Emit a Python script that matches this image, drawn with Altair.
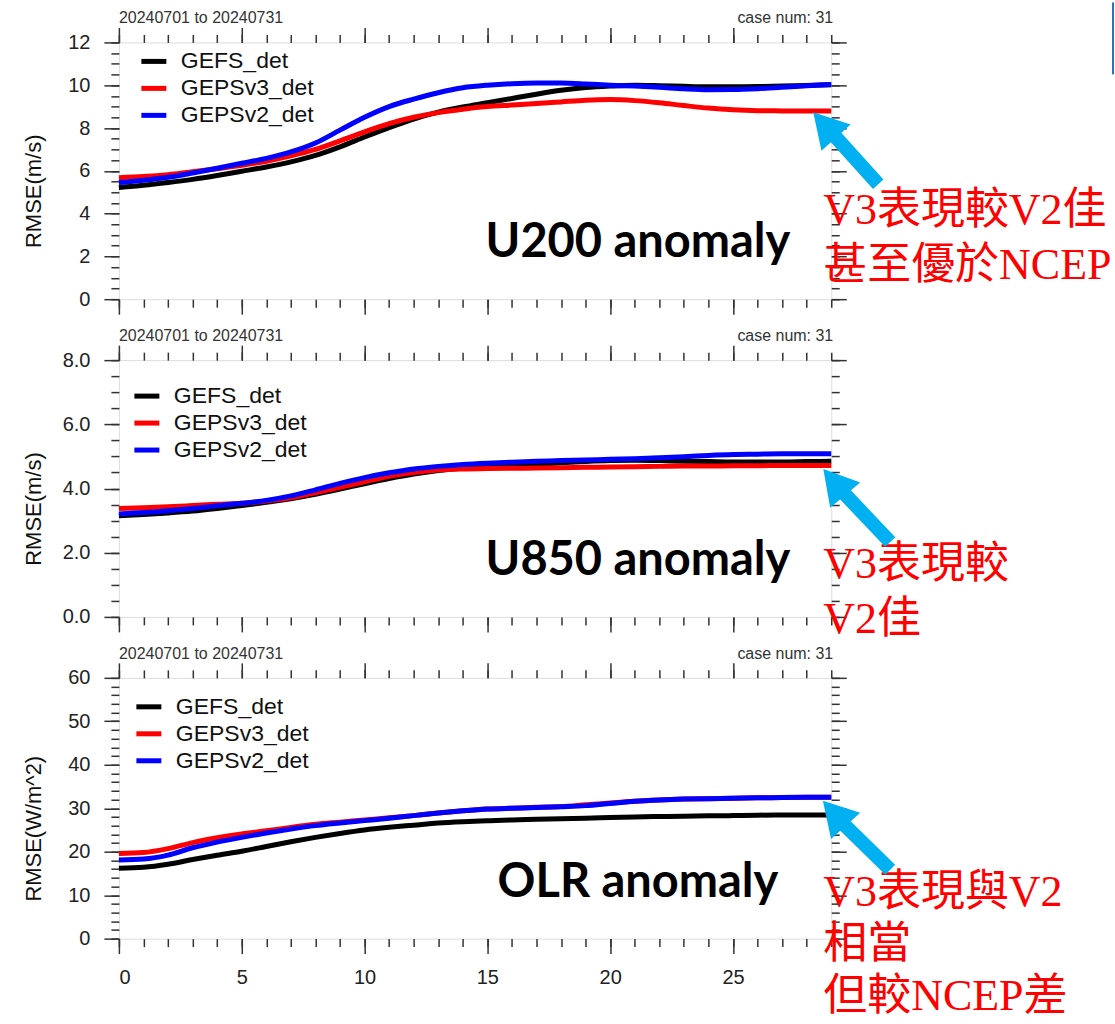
import altair as alt
import pandas as pd

# ---------------- data ----------------
days = list(range(30))
models = ["GEFS_det", "GEPSv3_det", "GEPSv2_det"]
model_colors = ["#000000", "#ff0000", "#0000ff"]

u200_gefs = [5.22, 5.32, 5.45, 5.60, 5.78, 5.98, 6.18, 6.42, 6.72, 7.12, 7.58, 8.02, 8.42, 8.74, 8.98,
             9.18, 9.38, 9.58, 9.76, 9.89, 9.96, 10.00, 9.98, 9.95, 9.93, 9.93, 9.94, 9.96, 9.99, 10.02]
u200_v3 = [5.68, 5.73, 5.82, 5.96, 6.10, 6.26, 6.45, 6.70, 7.00, 7.40, 7.82, 8.20, 8.50, 8.72, 8.88,
           9.00, 9.07, 9.14, 9.22, 9.30, 9.33, 9.28, 9.18, 9.05, 8.93, 8.85, 8.81, 8.80, 8.80, 8.80]
u200_v2 = [5.45, 5.56, 5.70, 5.90, 6.12, 6.35, 6.58, 6.88, 7.30, 7.90, 8.50, 9.00, 9.35, 9.65, 9.88,
           10.00, 10.07, 10.10, 10.10, 10.06, 10.00, 9.96, 9.90, 9.83, 9.79, 9.80, 9.84, 9.90, 9.97, 10.03]

u850_gefs = [3.15, 3.19, 3.24, 3.30, 3.38, 3.47, 3.57, 3.68, 3.82, 3.98, 4.15, 4.31, 4.45, 4.56, 4.64,
             4.70, 4.73, 4.76, 4.80, 4.84, 4.87, 4.88, 4.87, 4.85, 4.84, 4.83, 4.83, 4.83, 4.84, 4.85]
u850_v3 = [3.38, 3.40, 3.43, 3.47, 3.51, 3.54, 3.61, 3.71, 3.87, 4.04, 4.21, 4.38, 4.50, 4.58, 4.61,
           4.62, 4.63, 4.64, 4.65, 4.66, 4.67, 4.68, 4.69, 4.70, 4.70, 4.71, 4.71, 4.72, 4.72, 4.72]
u850_v2 = [3.21, 3.25, 3.31, 3.38, 3.46, 3.54, 3.63, 3.77, 3.96, 4.16, 4.34, 4.49, 4.61, 4.69, 4.75,
           4.79, 4.82, 4.85, 4.87, 4.89, 4.91, 4.93, 4.96, 4.99, 5.03, 5.06, 5.07, 5.08, 5.08, 5.08]

olr_gefs = [16.2, 16.4, 17.1, 18.2, 19.2, 20.1, 21.2, 22.3, 23.3, 24.2, 25.0, 25.6, 26.1, 26.6, 26.9,
            27.1, 27.3, 27.45, 27.6, 27.7, 27.85, 28.0, 28.1, 28.15, 28.25, 28.3, 28.4, 28.45, 28.45, 28.45]
olr_v3 = [19.6, 19.8, 20.7, 22.1, 23.2, 24.1, 24.8, 25.6, 26.3, 26.8, 27.3, 27.8, 28.3, 28.9, 29.4,
          29.8, 30.0, 30.2, 30.4, 30.8, 31.2, 31.6, 31.9, 32.1, 32.2, 32.3, 32.4, 32.45, 32.5, 32.5]
olr_v2 = [18.1, 18.3, 19.2, 20.9, 22.2, 23.3, 24.3, 25.2, 26.0, 26.6, 27.15, 27.7, 28.3, 28.9, 29.4,
          29.8, 30.0, 30.15, 30.35, 30.6, 31.1, 31.6, 31.9, 32.1, 32.2, 32.3, 32.4, 32.45, 32.5, 32.5]

header_left = "20240701 to 20240731"
header_right = "case num: 31"
panel_labels = ["U200 anomaly", "U850 anomaly", "OLR anomaly"]
y_titles = ["RMSE(m/s)", "RMSE(m/s)", "RMSE(W/m^2)"]
notes = [
    ["V3表現較V2佳", "甚至優於NCEP"],
    ["V3表現較", "V2佳"],
    ["V3表現與V2", "相當", "但較NCEP差"],
]
x_major = [0, 5, 10, 15, 20, 25]

# ---------------- style ----------------
FONT = "Liberation Sans, Arial, Helvetica, sans-serif"
NOTE_FONT = "Liberation Serif, Times New Roman, Noto Sans CJK TC, serif"
LABEL_FONT = "Lato, Open Sans, sans-serif"
CYAN = "#00b0f0"
W = 713


def make_df(series):
    rows = []
    for m, vals in zip(models, series):
        for d, v in zip(days, vals):
            rows.append({"day": d, "value": v, "model": m})
    return pd.DataFrame(rows)


def one():
    return pd.DataFrame({"k": [0]})


def panel(series, ydom, ymajor, yminor, yfmt, ytitle, label, label_x, note_lines, note_y, note_lh,
          legend_x, legend_y, arrow, height, show_xlabels, top_line=False):
    df = make_df(series)
    xs = alt.Scale(domain=[0, 29], nice=False, zero=False)
    ys = alt.Scale(domain=ydom, nice=False, zero=False)
    common = dict(grid=False, domain=False, tickColor="#333", tickWidth=1.5,
                  labelFont=FONT, labelFontSize=20, labelColor="#222")

    legend = alt.Legend(orient="none", legendX=legend_x, legendY=legend_y, title=None,
                        symbolType="stroke", symbolStrokeWidth=5, symbolSize=625,
                        labelFont=FONT, labelFontSize=23, labelColor="#111",
                        labelOffset=12, rowPadding=-1.5, padding=0, labelLimit=0)
    color = alt.Color("model:N", scale=alt.Scale(domain=models, range=model_colors), legend=legend)

    layers = []
    axis_specs = [
        (alt.Axis(orient="bottom", values=x_major, tickSize=15, labels=show_xlabels,
                  labelPadding=14, title=None, **common),
         alt.Axis(orient="left", values=ymajor, tickSize=15, labelPadding=14, format=yfmt,
                  title=ytitle, titleFont=FONT, titleFontSize=22, titleFontWeight="normal",
                  titleColor="#111", titleX=-73, titleY=height / 2 + 20, **common)),
        (alt.Axis(orient="bottom", values=days, tickSize=8, labels=False, title=None, **common),
         alt.Axis(orient="left", values=yminor, tickSize=8, labels=False, title=None, **common)),
        (alt.Axis(orient="top", values=x_major, tickSize=15, labels=False, title=None, **common),
         alt.Axis(orient="right", values=ymajor, tickSize=15, labels=False, title=None, **common)),
        (alt.Axis(orient="top", values=days, tickSize=8, labels=False, title=None, **common),
         alt.Axis(orient="right", values=yminor, tickSize=8, labels=False, title=None, **common)),
    ]
    for xa, ya in axis_specs:
        layers.append(
            alt.Chart(df).mark_line(opacity=0).encode(
                x=alt.X("day:Q", scale=xs, axis=xa),
                y=alt.Y("value:Q", scale=ys, axis=ya),
                detail="model:N",
            )
        )
    for m in models:
        layers.append(
            alt.Chart(df).transform_filter(alt.datum.model == m)
            .mark_line(strokeWidth=5, interpolate="monotone")
            .encode(
                x=alt.X("day:Q", scale=xs, axis=None),
                y=alt.Y("value:Q", scale=ys, axis=None),
                color=color,
            )
        )
    layers.append(alt.Chart(one()).mark_text(text=header_left, font=FONT, fontSize=16, color="#333",
                                             align="left", baseline="alphabetic")
                  .encode(x=alt.value(0), y=alt.value(-19)))
    layers.append(alt.Chart(one()).mark_text(text=header_right, font=FONT, fontSize=16, color="#333",
                                             align="right", baseline="alphabetic")
                  .encode(x=alt.value(W + 2), y=alt.value(-19)))
    layers.append(alt.Chart(one()).mark_text(text=label, font=LABEL_FONT, fontSize=47, fontWeight="bold",
                                             color="#000", align="right", baseline="alphabetic")
                  .encode(x=alt.value(label_x), y=alt.value(height - 42)))
    layers.append(alt.Chart(one()).mark_text(text=note_lines, font=NOTE_FONT, fontSize=44, color="#ff0000",
                                             align="left", baseline="alphabetic", lineHeight=note_lh)
                  .encode(x=alt.value(705), y=alt.value(note_y)))
    hx, hy, sx, sy, tx, ty, ang = arrow
    layers.append(alt.Chart(one()).mark_rule(color=CYAN, strokeWidth=14, strokeCap="butt")
                  .encode(x=alt.value(sx), y=alt.value(sy), x2=alt.value(tx), y2=alt.value(ty)))
    layers.append(alt.Chart(one()).mark_point(shape="triangle-up", filled=True, size=1540, angle=ang,
                                              color=CYAN, opacity=1, strokeWidth=0)
                  .encode(x=alt.value(hx), y=alt.value(hy)))
    if top_line:
        layers.append(alt.Chart(one()).mark_rule(color="#2e75b6", strokeWidth=2)
                      .encode(x=alt.value(995), x2=alt.value(995), y=alt.value(-40), y2=alt.value(32)))

    return alt.layer(*layers).resolve_axis(x="independent", y="independent").properties(
        width=W, height=height)


# arrow tuples: head centre x, y, shaft start x, y, tail x, y, angle
p1 = panel([u200_gefs, u200_v3, u200_v2], [0, 12], list(range(0, 13, 2)),
           [i * 0.5 for i in range(25)], "d", y_titles[0], panel_labels[0], 672, notes[0], 182, 55,
           20, 4, (706.4, 82.6, 715.1, 92.2, 760, 142, 318), 257, False, top_line=True)
p2 = panel([u850_gefs, u850_v3, u850_v2], [0, 8], [0, 2, 4, 6, 8],
           [i * 0.5 for i in range(17)], ".1f", y_titles[1], panel_labels[1], 672, notes[1], 218, 55,
           13, 21, (716, 122, 724.4, 131.9, 772, 182, 320), 257, False)
p3 = panel([olr_gefs, olr_v3, olr_v2], [0, 60], list(range(0, 61, 10)),
           list(range(0, 61, 2)), "d", y_titles[2], panel_labels[2], 660, notes[2], 228, 52,
           15, 14, (716, 135.6, 724.2, 145.2, 772, 192, 318), 261, True)

chart = alt.vconcat(p1, p2, p3, spacing=61, bounds="flush").resolve_scale(
    color="independent").properties(
    padding={"left": 22, "top": 0, "right": 0, "bottom": 0}
).configure_view(stroke="#333", strokeWidth=1.5).configure(background="white")

chart.save("out.html", embed_options={"renderer": "svg", "actions": False})
